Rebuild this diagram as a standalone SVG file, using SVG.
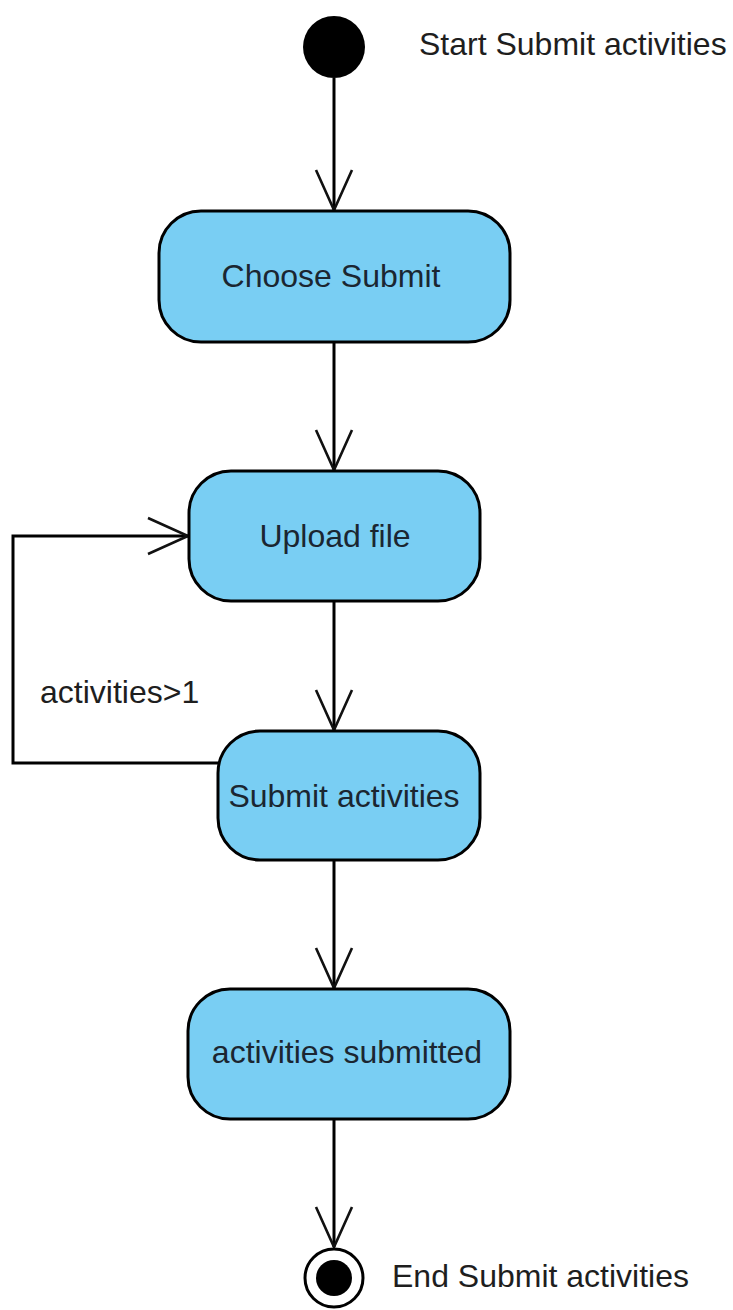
<svg xmlns="http://www.w3.org/2000/svg" width="733" height="1310" viewBox="0 0 733 1310">
  <style>
    .action { fill: #79cef3; stroke: #000; stroke-width: 3; }
    .action-label { font-family: "Liberation Sans", Arial, sans-serif; font-size: 32px; fill: #1b2631; text-anchor: middle; }
    .note { font-family: "Liberation Sans", Arial, sans-serif; font-size: 32px; fill: #1e1e1e; }
    .flow { fill: none; stroke: #000; stroke-width: 3; marker-end: url(#open-arrow); }
  </style>
  <defs>
    <marker id="open-arrow" viewBox="-44 -22 48 44" markerWidth="48" markerHeight="44" refX="0" refY="0" markerUnits="userSpaceOnUse" orient="auto">
      <path d="M -40 -18 L 0 0 L -40 18" fill="none" stroke="#111" stroke-width="2.6"/>
    </marker>
  </defs>

  <rect width="733" height="1310" fill="#fff"/>

  <!-- control flows -->
  <g id="connectors">
    <path class="flow" d="M 334 78 L 334 210"/>
    <path class="flow" d="M 334 343 L 334 470"/>
    <path class="flow" d="M 334 602 L 334 730"/>
    <path class="flow" d="M 334 861 L 334 988"/>
    <path class="flow" d="M 334 1120 L 334 1247"/>
    <path class="flow" d="M 218 763 L 13 763 L 13 536 L 188 536"/>
    <text id="guard" class="note" x="40" y="703">activities&gt;1</text>
  </g>

  <!-- initial node -->
  <g id="start">
    <circle cx="334" cy="47" r="31" fill="#000"/>
    <text class="note" x="419" y="55">Start Submit activities</text>
  </g>

  <g id="choose-submit">
    <rect class="action" x="159" y="211" width="351" height="131" rx="42" ry="42"/>
    <text class="action-label" x="331" y="287">Choose Submit</text>
  </g>

  <g id="upload-file">
    <rect class="action" x="189" y="471" width="291" height="130" rx="42" ry="42"/>
    <text class="action-label" x="335" y="547">Upload file</text>
  </g>

  <g id="submit-activities">
    <rect class="action" x="218" y="731" width="262" height="129" rx="42" ry="42"/>
    <text class="action-label" x="344" y="807">Submit activities</text>
  </g>

  <g id="activities-submitted">
    <rect class="action" x="188" y="989" width="322" height="130" rx="42" ry="42"/>
    <text class="action-label" x="347" y="1063">activities submitted</text>
  </g>

  <!-- final node -->
  <g id="end">
    <circle cx="334" cy="1278" r="29" fill="#fff" stroke="#000" stroke-width="3"/>
    <circle cx="334" cy="1278" r="18" fill="#000"/>
    <text class="note" x="392" y="1287">End Submit activities</text>
  </g>
</svg>
